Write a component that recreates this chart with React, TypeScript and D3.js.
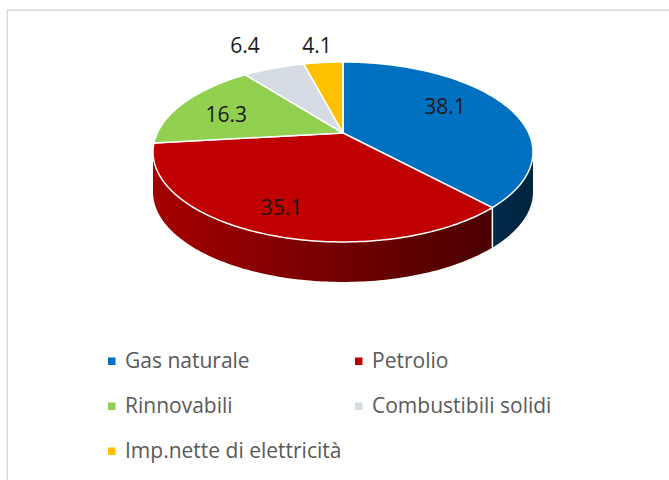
import React from "react";
import * as d3 from "d3";

const categories = ["Gas naturale", "Petrolio", "Rinnovabili", "Combustibili solidi", "Imp.nette di elettricità"];
const values = [38.1, 35.1, 16.3, 6.4, 4.1];
const colors = ["#0070C0", "#C00000", "#92D050", "#D6DCE4", "#FFC000"];

const W = 669;
const H = 480;
const FONT = "'Open Sans', 'Noto Sans', sans-serif";

// perspective projection of the pie disk (u,v unit disk) onto the page
const CX = 343;
const CY = 133;
const A = 185.7;
const B = 57.9;
const K = -0.211;
const DEPTH = 40;

// label placement (relative radius on the disk, angular shift in degrees)
const LABEL_R = [0.68, 0.78, 0.7, 1.47, 1.32];
const LABEL_SHIFT = [-8.6, 0.7, -3.3, -1, -0.4];

function proj(theta: number, r: number): [number, number] {
  const u = r * Math.sin(theta);
  const v = -r * Math.cos(theta);
  const w = 1 + K * v;
  return [CX + (A * u) / w, (B * v + CY) / w];
}

function rimPoints(a0: number, a1: number): [number, number][] {
  const n = Math.max(2, Math.ceil(((a1 - a0) * 180) / Math.PI));
  const pts: [number, number][] = [];
  for (let i = 0; i <= n; i++) pts.push(proj(a0 + ((a1 - a0) * i) / n, 1));
  return pts;
}

function shade(c: string, f: number) {
  const col = d3.rgb(c);
  return d3.rgb(col.r * f, col.g * f, col.b * f).formatHex();
}

export default function App() {
  const pie = d3.pie<number>().sort(null).value((d) => d)(values);
  const frontStart = Math.acos(K);
  const frontEnd = 2 * Math.PI - frontStart;
  const xLeft = proj(frontEnd, 1)[0];
  const xRight = proj(frontStart, 1)[0];
  const line = d3.line();

  const sides = pie
    .map((p, i) => {
      const a0 = Math.max(p.startAngle, frontStart);
      const a1 = Math.min(p.endAngle, frontEnd);
      if (a1 <= a0) return null;
      const top = rimPoints(a0, a1);
      const bottom = top.map(([x, y]) => [x, y + DEPTH] as [number, number]).reverse();
      return { i, d: line([...top, ...bottom])! + "Z" };
    })
    .filter(Boolean) as { i: number; d: string }[];

  const sideEdges = pie
    .slice(1)
    .map((p) => p.startAngle)
    .filter((a) => a > frontStart && a < frontEnd)
    .map((a) => proj(a, 1));

  const tops = pie.map((p, i) => {
    const pts = [proj(0, 0), ...rimPoints(p.startAngle, p.endAngle)];
    return { i, d: line(pts)! + "Z" };
  });

  const labels = pie.map((p, i) => {
    const mid = (p.startAngle + p.endAngle) / 2 + (LABEL_SHIFT[i] * Math.PI) / 180;
    const [x, y] = proj(mid, LABEL_R[i]);
    return { x, y, t: p.data.toFixed(1) };
  });

  const legendRows = [368, 413, 458];
  const legendCols = [108, 355];

  return (
    <svg width={W} height={H} style={{ position: "absolute", left: 0, top: 0 }}>
      <defs>
        {colors.map((c, i) => (
          <linearGradient key={i} id={`side${i}`} gradientUnits="userSpaceOnUse" x1={xLeft} x2={xRight} y1={0} y2={0}>
            <stop offset="0" stopColor={shade(c, 0.86)} />
            <stop offset="1" stopColor={shade(c, 0.33)} />
          </linearGradient>
        ))}
      </defs>
      <rect x={0} y={0} width={W} height={H} fill="#fff" />
      <rect x={7.25} y={10.25} width={W + 20} height={H + 20} fill="#fff" stroke="#d9d9d9" strokeWidth={1.5} />
      {sides.map((s) => (
        <path key={`s${s.i}`} d={s.d} fill={`url(#side${s.i})`} />
      ))}
      {sideEdges.map(([x, y], j) => (
        <line key={`e${j}`} x1={x} y1={y} x2={x} y2={y + DEPTH} stroke="#ffffff" strokeWidth={1.5} />
      ))}
      {tops.map((t) => (
        <path key={`t${t.i}`} d={t.d} fill={colors[t.i]} stroke="#ffffff" strokeWidth={1.5} strokeLinejoin="round" />
      ))}
      {labels.map((l, i) => (
        <text key={`l${i}`} x={l.x} y={l.y} textAnchor="middle" dominantBaseline="central" fontFamily={FONT} fontSize={21} fill="#1a1a1a">
          {l.t}
        </text>
      ))}
      {categories.map((c, i) => {
        const col = i % 2;
        const row = Math.floor(i / 2);
        const x = legendCols[col];
        const y = legendRows[row];
        return (
          <g key={`g${i}`}>
            <rect x={x} y={y - 10.5} width={7.5} height={7.5} fill={colors[i]} />
            <text x={x + 17} y={y} fontFamily={FONT} fontSize={21} fill="#595959">
              {c}
            </text>
          </g>
        );
      })}
    </svg>
  );
}
